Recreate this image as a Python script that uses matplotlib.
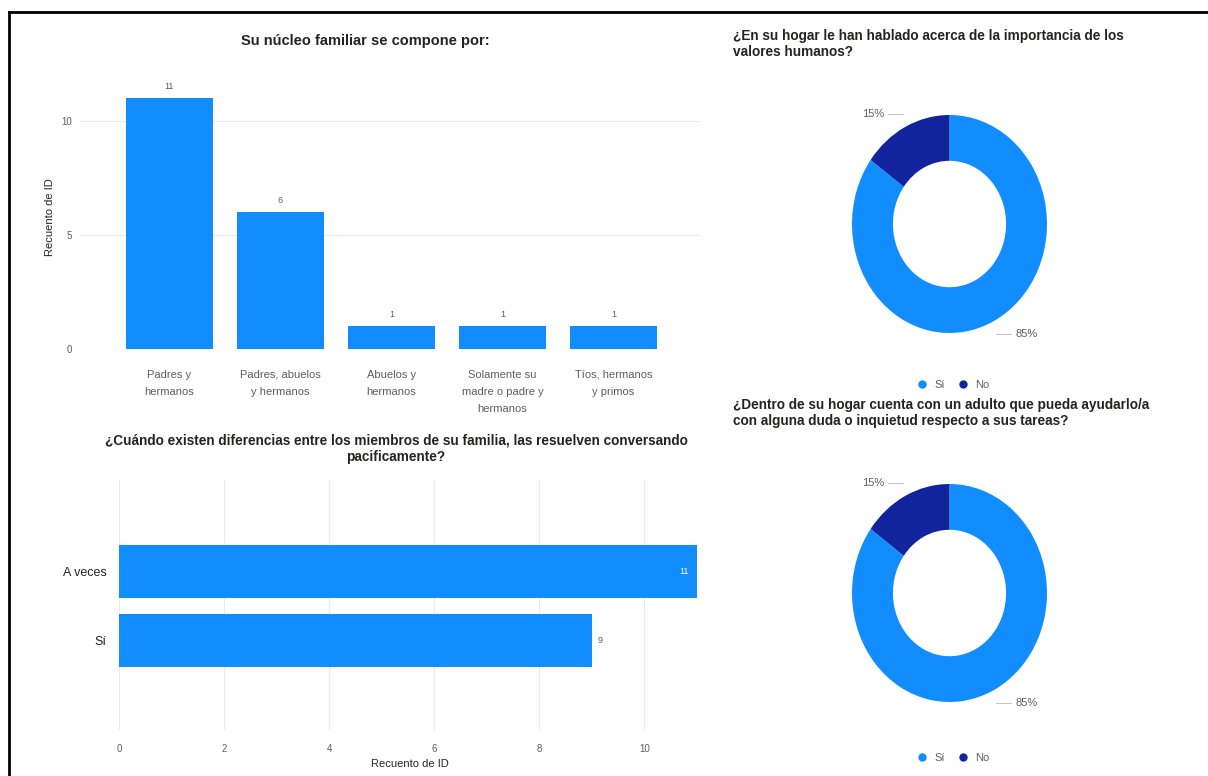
import matplotlib
matplotlib.use("Agg")
import matplotlib.pyplot as plt
from matplotlib.lines import Line2D
import numpy as np

# Datos
familia_cats = ["Padres y\nhermanos", "Padres, abuelos\ny hermanos", "Abuelos y\nhermanos",
                "Solamente su\nmadre o padre y\nhermanos", "Tíos, hermanos\ny primos"]
familia_vals = [11, 6, 1, 1, 1]

conversan_cats = ["A veces", "Sí"]
conversan_vals = [11, 9]

valores_labels = ["Sí", "No"]
valores_pct = [85, 15]

adulto_labels = ["Sí", "No"]
adulto_pct = [85, 15]

BLUE = "#118DFF"
NAVY = "#12239E"
GRAY = "#605E5C"
DARK = "#252423"
GRID = "#EDEBE9"

plt.rcParams["font.family"] = ["Liberation Sans", "DejaVu Sans"]

W, H = 1208, 776
fig = plt.figure(figsize=(W / 100, H / 100), dpi=100)
fig.patch.set_facecolor("white")


def ax_px(x0, y0, x1, y1):
    return fig.add_axes([x0 / W, 1 - y1 / H, (x1 - x0) / W, (y1 - y0) / H])


def clean(ax):
    for s in ax.spines.values():
        s.set_visible(False)
    ax.tick_params(length=0, colors=GRAY, labelsize=7)


# marco negro
fig.add_artist(Line2D([9 / W, 9 / W], [0, 1 - 12 / H], color="black", lw=2))
fig.add_artist(Line2D([9 / W, 1], [1 - 12 / H, 1 - 12 / H], color="black", lw=2))

# ── barras verticales ────────────────────────────────────────────────
ax1 = ax_px(80, 85, 700, 349)
x = np.arange(len(familia_vals))
ax1.bar(x, familia_vals, width=0.78, color=BLUE, zorder=3)
ax1.set_xlim(-0.806, 4.78)
ax1.set_ylim(0, 11.58)
ax1.set_yticks([0, 5, 10])
ax1.yaxis.grid(True, color=GRID, lw=0.8)
ax1.set_xticks(x)
ax1.set_xticklabels(familia_cats, fontsize=8, color=GRAY, linespacing=1.9, va="top")
clean(ax1)
ax1.tick_params(axis="x", pad=15, labelsize=8)
ax1.tick_params(axis="y", pad=6)
ax1.set_ylabel("Recuento de ID", fontsize=8, color=DARK, labelpad=4)
for xi, v in zip(x, familia_vals):
    ax1.text(xi, v + 0.3, str(v), ha="center", va="bottom", fontsize=6.5, color=GRAY)
fig.text(365 / W, 1 - 41 / H, "Su núcleo familiar se compone por:", ha="center", va="center",
         fontsize=10.5, fontweight="bold", color=DARK)

# ── barras horizontales ──────────────────────────────────────────────
ax2 = ax_px(119, 480, 701, 730)
y = np.arange(len(conversan_vals))
ax2.barh(y, conversan_vals, height=0.77, color=BLUE, zorder=3)
ax2.set_ylim(2.30, -1.33)
ax2.set_xlim(0, 11.08)
ax2.set_xticks([0, 2, 4, 6, 8, 10])
ax2.set_yticks(y)
ax2.set_yticklabels(conversan_cats, fontsize=9, color=DARK)
ax2.xaxis.grid(True, color=GRID, lw=0.8)
clean(ax2)
ax2.tick_params(axis="x", pad=10)
ax2.tick_params(axis="y", labelsize=9, labelcolor=DARK, pad=9)
ax2.set_xlabel("Recuento de ID", fontsize=8, color=DARK, labelpad=4)
for yi, v in zip(y, conversan_vals):
    if v == max(conversan_vals):
        ax2.text(v - 0.15, yi, str(v), ha="right", va="center", fontsize=6.5, color="white")
    else:
        ax2.text(v + 0.12, yi, str(v), ha="left", va="center", fontsize=6.5, color=GRAY)
fig.text(396 / W, 1 - 449 / H,
         "¿Cuándo existen diferencias entre los miembros de su familia, las resuelven conversando\npacificamente?",
         ha="center", va="center", fontsize=9.8, fontweight="bold", color=DARK, linespacing=1.25)


# ── donas ────────────────────────────────────────────────────────────
def donut(box, pct, labels, title, title_y, legend_y):
    ax = ax_px(*box)
    wedges, _ = ax.pie(pct, colors=[BLUE, NAVY], startangle=90, counterclock=False,
                       radius=1, wedgeprops=dict(width=0.42, edgecolor="none"))
    ax.set_aspect("auto")
    ax.set_xlim(-1, 1)
    ax.set_ylim(-1, 1)
    for w, p in zip(wedges, pct):
        mid = np.deg2rad((w.theta1 + w.theta2) / 2)
        cx, cy = 1.13 * np.cos(mid), 1.13 * np.sin(mid)
        sgn = 1 if cx >= 0 else -1
        ax.plot([cx - sgn * 0.04, cx + sgn * 0.12], [cy, cy], color="#C8C6C4", lw=0.8,
                clip_on=False)
        ax.text(cx + sgn * 0.16, cy, f"{p}%", ha="left" if sgn > 0 else "right", va="center",
                fontsize=8, color=GRAY, clip_on=False)
    fig.text(733 / W, 1 - title_y / H, title, ha="left", va="center", fontsize=9.8,
             fontweight="bold", color=DARK, linespacing=1.2)
    handles = [Line2D([], [], marker="o", ls="", color=c, markersize=5) for c in [BLUE, NAVY]]
    fig.legend(handles, labels, loc="center", bbox_to_anchor=(950 / W, 1 - legend_y / H),
               ncol=2, frameon=False, fontsize=8, labelcolor=GRAY, handletextpad=0.1,
               columnspacing=0.6, borderaxespad=0)


donut((852, 115, 1047, 333), valores_pct, valores_labels,
      "¿En su hogar le han hablado acerca de la importancia de los\nvalores humanos?", 44, 385)
donut((852, 484, 1047, 702), adulto_pct, adulto_labels,
      "¿Dentro de su hogar cuenta con un adulto que pueda ayudarlo/a\ncon alguna duda o inquietud respecto a sus tareas?",
      413, 758)

fig.savefig("out.png", dpi=100, facecolor="white")
